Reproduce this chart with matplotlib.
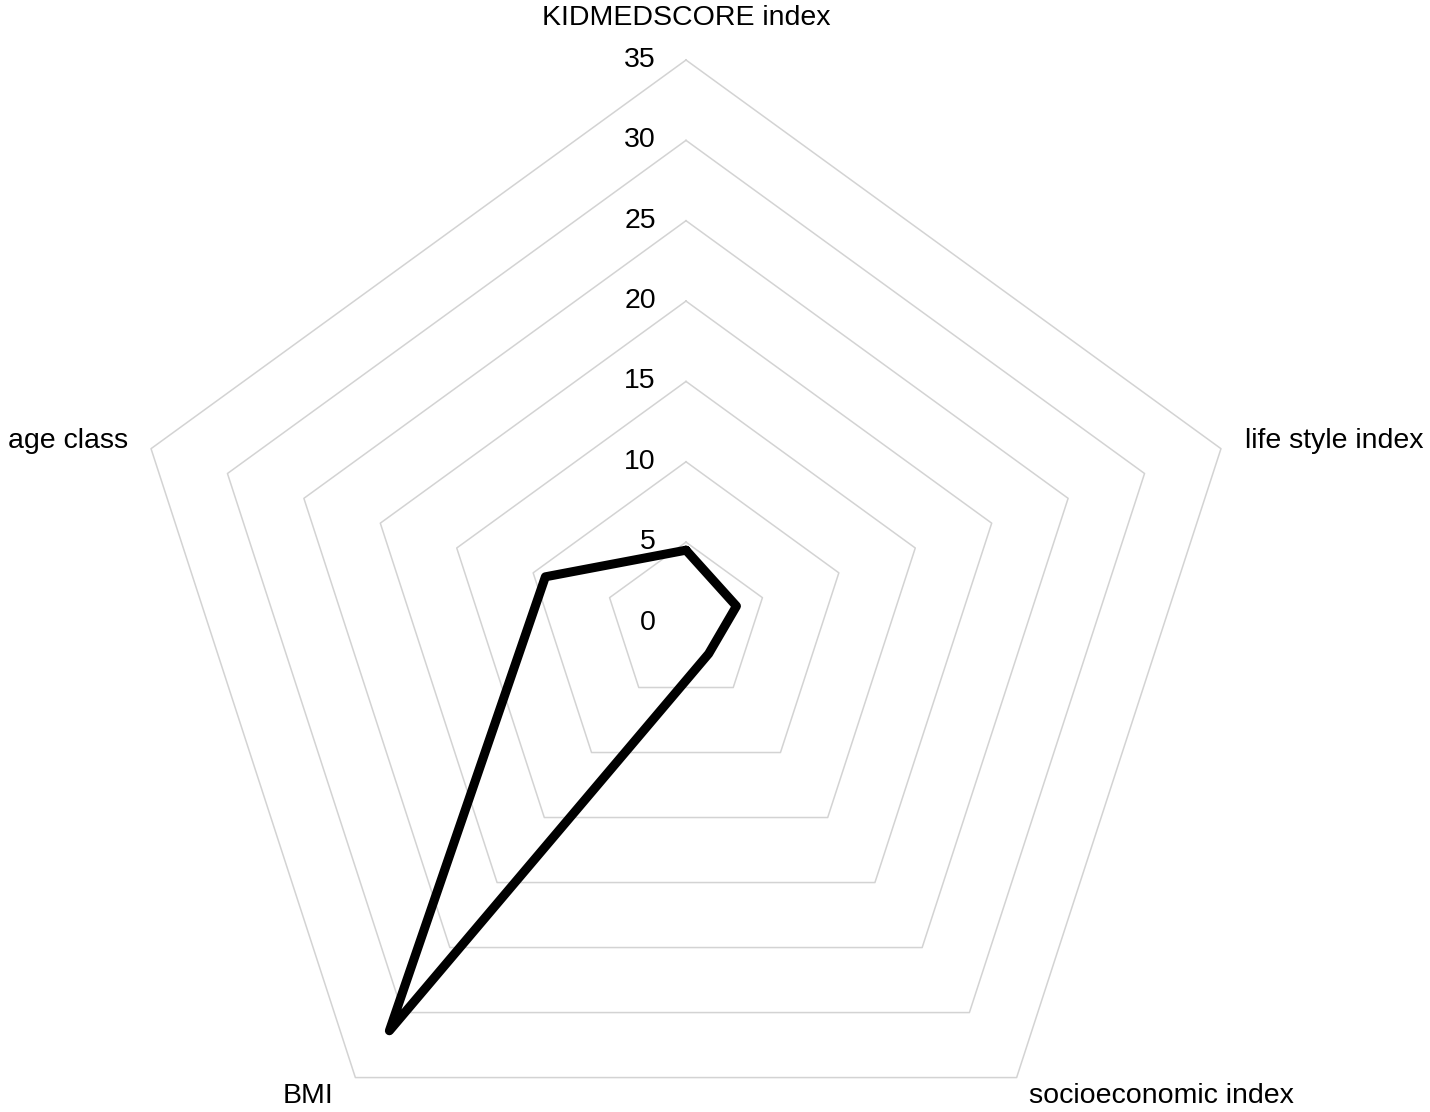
#!/usr/bin/env python3
"""
Radar chart: KIDMEDSCORE, life style, socioeconomic, BMI and age class.
"""
import numpy as np
import matplotlib
matplotlib.rcParams.update({'font.family': ['Liberation Sans', 'DejaVu Sans'],
                            'font.size': 20.5})
import matplotlib.pyplot as plt

# ── Data ──────────────────────────────────────────────────────────────────────
categories = ['KIDMEDSCORE index', 'life style index', 'socioeconomic index',
              'BMI', 'age class']
values = [4.5, 3.3, 2.4, 31.4, 9.2]
ring_levels = [5, 10, 15, 20, 25, 30, 35]
tick_labels = ['0', '5', '10', '15', '20', '25', '30', '35']
tick_values = [0, 5, 10, 15, 20, 25, 30, 35]

# ── Figure ────────────────────────────────────────────────────────────────────
W, H = 1430, 1112
fig = plt.figure(figsize=(W / 100, H / 100), dpi=100)
cx, cy, R = 686, 622.5, 562.5
ax = fig.add_axes([(cx - R) / W, (H - cy - R) / H, 2 * R / W, 2 * R / H],
                  projection='polar')
ax.set_theta_offset(np.pi / 2)
ax.set_theta_direction(-1)
ax.set_ylim(0, 35)
ax.set_xticks([]); ax.set_yticks([])
ax.grid(False)
ax.spines['polar'].set_visible(False)
ax.patch.set_visible(False)

n = len(categories)
theta = np.linspace(0, 2 * np.pi, n, endpoint=False)
theta_closed = np.append(theta, theta[0])

# pentagon grid
for lvl in ring_levels:
    ax.plot(theta_closed, [lvl] * (n + 1), color='#d3d3d3', lw=1.1,
            clip_on=False, zorder=1)

# data polygon
vals_closed = values + values[:1]
ax.plot(theta_closed, vals_closed, color='black', lw=6.5,
        solid_joinstyle='round', solid_capstyle='round', clip_on=False, zorder=3)

# radial value labels
for v, lab in zip(tick_values, tick_labels):
    ax.annotate(lab, xy=(0, v), xytext=(-30, 0), textcoords='offset pixels',
                ha='right', va='center', annotation_clip=False)

# category labels
offsets = [(0, 42, 'center'), (24, 8, 'left'), (12, -18, 'left'),
           (-22, -18, 'right'), (-23, 8, 'right')]
for t, lab, (dx, dy, ha) in zip(theta, categories, offsets):
    ax.annotate(lab, xy=(t, 35), xytext=(dx, dy), textcoords='offset pixels',
                ha=ha, va='center', annotation_clip=False)

fig.savefig('out.png', dpi=100)
